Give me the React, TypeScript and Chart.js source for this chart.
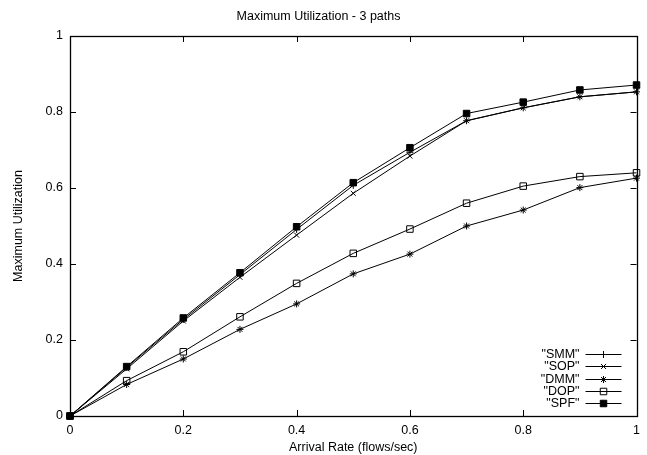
import React, { useEffect, useRef } from 'react';
import { Chart, registerables } from 'chart.js';
import { drawPoint } from 'chart.js/helpers';

Chart.register(...registerables);

const xValues = [0, 0.1, 0.2, 0.3, 0.4, 0.5, 0.6, 0.7, 0.8, 0.9, 1.0];
const smm = [0, 0.128, 0.254, 0.372, 0.491, 0.607, 0.694, 0.777, 0.811, 0.840, 0.853];
const sop = [0, 0.124, 0.250, 0.365, 0.476, 0.586, 0.684, 0.777, 0.811, 0.840, 0.853];
const dmm = [0, 0.083, 0.150, 0.228, 0.295, 0.374, 0.426, 0.500, 0.542, 0.601, 0.626];
const dop = [0, 0.093, 0.169, 0.261, 0.349, 0.428, 0.492, 0.560, 0.605, 0.630, 0.640];
const spf = [0, 0.130, 0.258, 0.377, 0.498, 0.614, 0.706, 0.796, 0.826, 0.858, 0.871];

const seriesNames = ['"SMM"', '"SOP"', '"DMM"', '"DOP"', '"SPF"'];
const xTicks = [0, 0.2, 0.4, 0.6, 0.8, 1];
const yTicks = [0, 0.2, 0.4, 0.6, 0.8, 1];

const FONT = '"Liberation Sans", Arial, Helvetica, sans-serif';
const FS = 12.5;

type Style = { pointStyle: string; radius: number; fill: string };
const styles: Style[] = [
  { pointStyle: 'cross', radius: 3.5, fill: 'rgba(0,0,0,0)' },
  { pointStyle: 'crossRot', radius: 3.5, fill: 'rgba(0,0,0,0)' },
  { pointStyle: 'star', radius: 3.5, fill: 'rgba(0,0,0,0)' },
  { pointStyle: 'rect', radius: 4.6, fill: 'rgba(0,0,0,0)' },
  { pointStyle: 'rect', radius: 4.6, fill: '#000' },
];

const framePlugin = {
  id: 'gnuFrame',
  beforeDatasetsDraw(chart: any) {
    const { ctx, chartArea } = chart;
    const { left, right, top, bottom } = chartArea;
    const xs = chart.scales.x;
    const ys = chart.scales.y;
    const tl = 6;
    ctx.save();
    ctx.strokeStyle = '#000';
    ctx.lineWidth = 1;
    ctx.beginPath();
    for (const v of xTicks) {
      const px = Math.round(xs.getPixelForValue(v)) + 0.5;
      ctx.moveTo(px, bottom);
      ctx.lineTo(px, bottom - tl);
      ctx.moveTo(px, top);
      ctx.lineTo(px, top + tl);
    }
    for (const v of yTicks) {
      const py = Math.round(ys.getPixelForValue(v)) + 0.5;
      ctx.moveTo(left, py);
      ctx.lineTo(left + tl, py);
      ctx.moveTo(right, py);
      ctx.lineTo(right - tl, py);
    }
    ctx.stroke();
    ctx.lineWidth = 1.3;
    ctx.strokeRect(Math.round(left) + 0.5, Math.round(top) + 0.5, Math.round(right - left), Math.round(bottom - top));
    ctx.restore();
  },
  afterDraw(chart: any) {
    const { ctx, chartArea } = chart;
    const textRight = chartArea.right - 57;
    const lineL = chartArea.right - 51;
    const lineR = chartArea.right - 15;
    const mid = (lineL + lineR) / 2;
    const y0 = chartArea.bottom - 62;
    const step = 12.3;
    ctx.save();
    ctx.font = `${FS}px ${FONT}`;
    ctx.textAlign = 'right';
    ctx.textBaseline = 'middle';
    seriesNames.forEach((name, i) => {
      const y = y0 + i * step;
      ctx.fillStyle = '#000';
      ctx.fillText(name, textRight, y + 0.5);
      ctx.strokeStyle = '#000';
      ctx.lineWidth = 1;
      ctx.beginPath();
      ctx.moveTo(lineL, Math.round(y) + 0.5);
      ctx.lineTo(lineR, Math.round(y) + 0.5);
      ctx.stroke();
      const s = styles[i];
      ctx.fillStyle = s.fill;
      drawPoint(ctx, { pointStyle: s.pointStyle as any, radius: s.radius, rotation: 0, borderWidth: 1 } as any, mid, Math.round(y) + 0.5);
    });
    ctx.restore();
  },
};

export default function App() {
  const ref = useRef<HTMLCanvasElement | null>(null);
  useEffect(() => {
    if (!ref.current) return;
    const all = [smm, sop, dmm, dop, spf];
    const chart = new Chart(ref.current, {
      type: 'line',
      data: {
        datasets: all.map((arr, i) => ({
          label: seriesNames[i],
          data: arr.map((v, j) => ({ x: xValues[j], y: v })),
          borderColor: '#000',
          borderWidth: 1,
          backgroundColor: styles[i].fill,
          pointStyle: styles[i].pointStyle as any,
          pointRadius: styles[i].radius,
          pointBorderColor: '#000',
          pointBackgroundColor: styles[i].fill,
          pointBorderWidth: 1,
          fill: false,
          tension: 0,
          clip: false as any,
        })),
      },
      plugins: [framePlugin],
      options: {
        animation: false,
        responsive: false,
        maintainAspectRatio: false,
        events: [],
        layout: { padding: { left: 0, right: 10, top: 0, bottom: 0 } },
        plugins: {
          legend: { display: false },
          tooltip: { enabled: false },
          title: {
            display: true,
            text: 'Maximum Utilization - 3 paths',
            color: '#000',
            font: { family: FONT, size: FS, weight: 'normal' as any, lineHeight: 1.2 },
            padding: { top: 9, bottom: 12 },
          },
        },
        scales: {
          x: {
            type: 'linear',
            min: 0,
            max: 1,
            grid: { display: false, drawTicks: false },
            border: { display: false },
            afterBuildTicks: (scale: any) => {
              scale.ticks = xTicks.map((v) => ({ value: v }));
            },
            afterFit: (scale: any) => {
              scale.height = 39;
            },
            ticks: {
              color: '#000',
              padding: 7,
              maxRotation: 0,
              font: { family: FONT, size: FS },
              callback: (v: any) => String(v),
            },
            title: {
              display: true,
              text: 'Arrival Rate (flows/sec)',
              color: '#000',
              font: { family: FONT, size: FS },
              padding: { top: 0, bottom: 0 },
            },
          },
          y: {
            type: 'linear',
            min: 0,
            max: 1,
            grid: { display: false, drawTicks: false },
            border: { display: false },
            afterBuildTicks: (scale: any) => {
              scale.ticks = yTicks.map((v) => ({ value: v }));
            },
            afterFit: (scale: any) => {
              scale.width = 70;
            },
            ticks: {
              color: '#000',
              padding: 7,
              font: { family: FONT, size: FS },
              callback: (v: any) => String(v),
            },
            title: {
              display: true,
              text: 'Maximum Utilization',
              color: '#000',
              font: { family: FONT, size: FS },
              padding: { top: 11.5, bottom: 0 },
            },
          },
        },
      },
    });
    return () => chart.destroy();
  }, []);
  return (
    <div style={{ position: 'absolute', left: 0, top: 0, width: 647, height: 455, background: '#fff' }}>
      <canvas ref={ref} width={647} height={455} style={{ width: 647, height: 455, display: 'block' }} />
    </div>
  );
}
